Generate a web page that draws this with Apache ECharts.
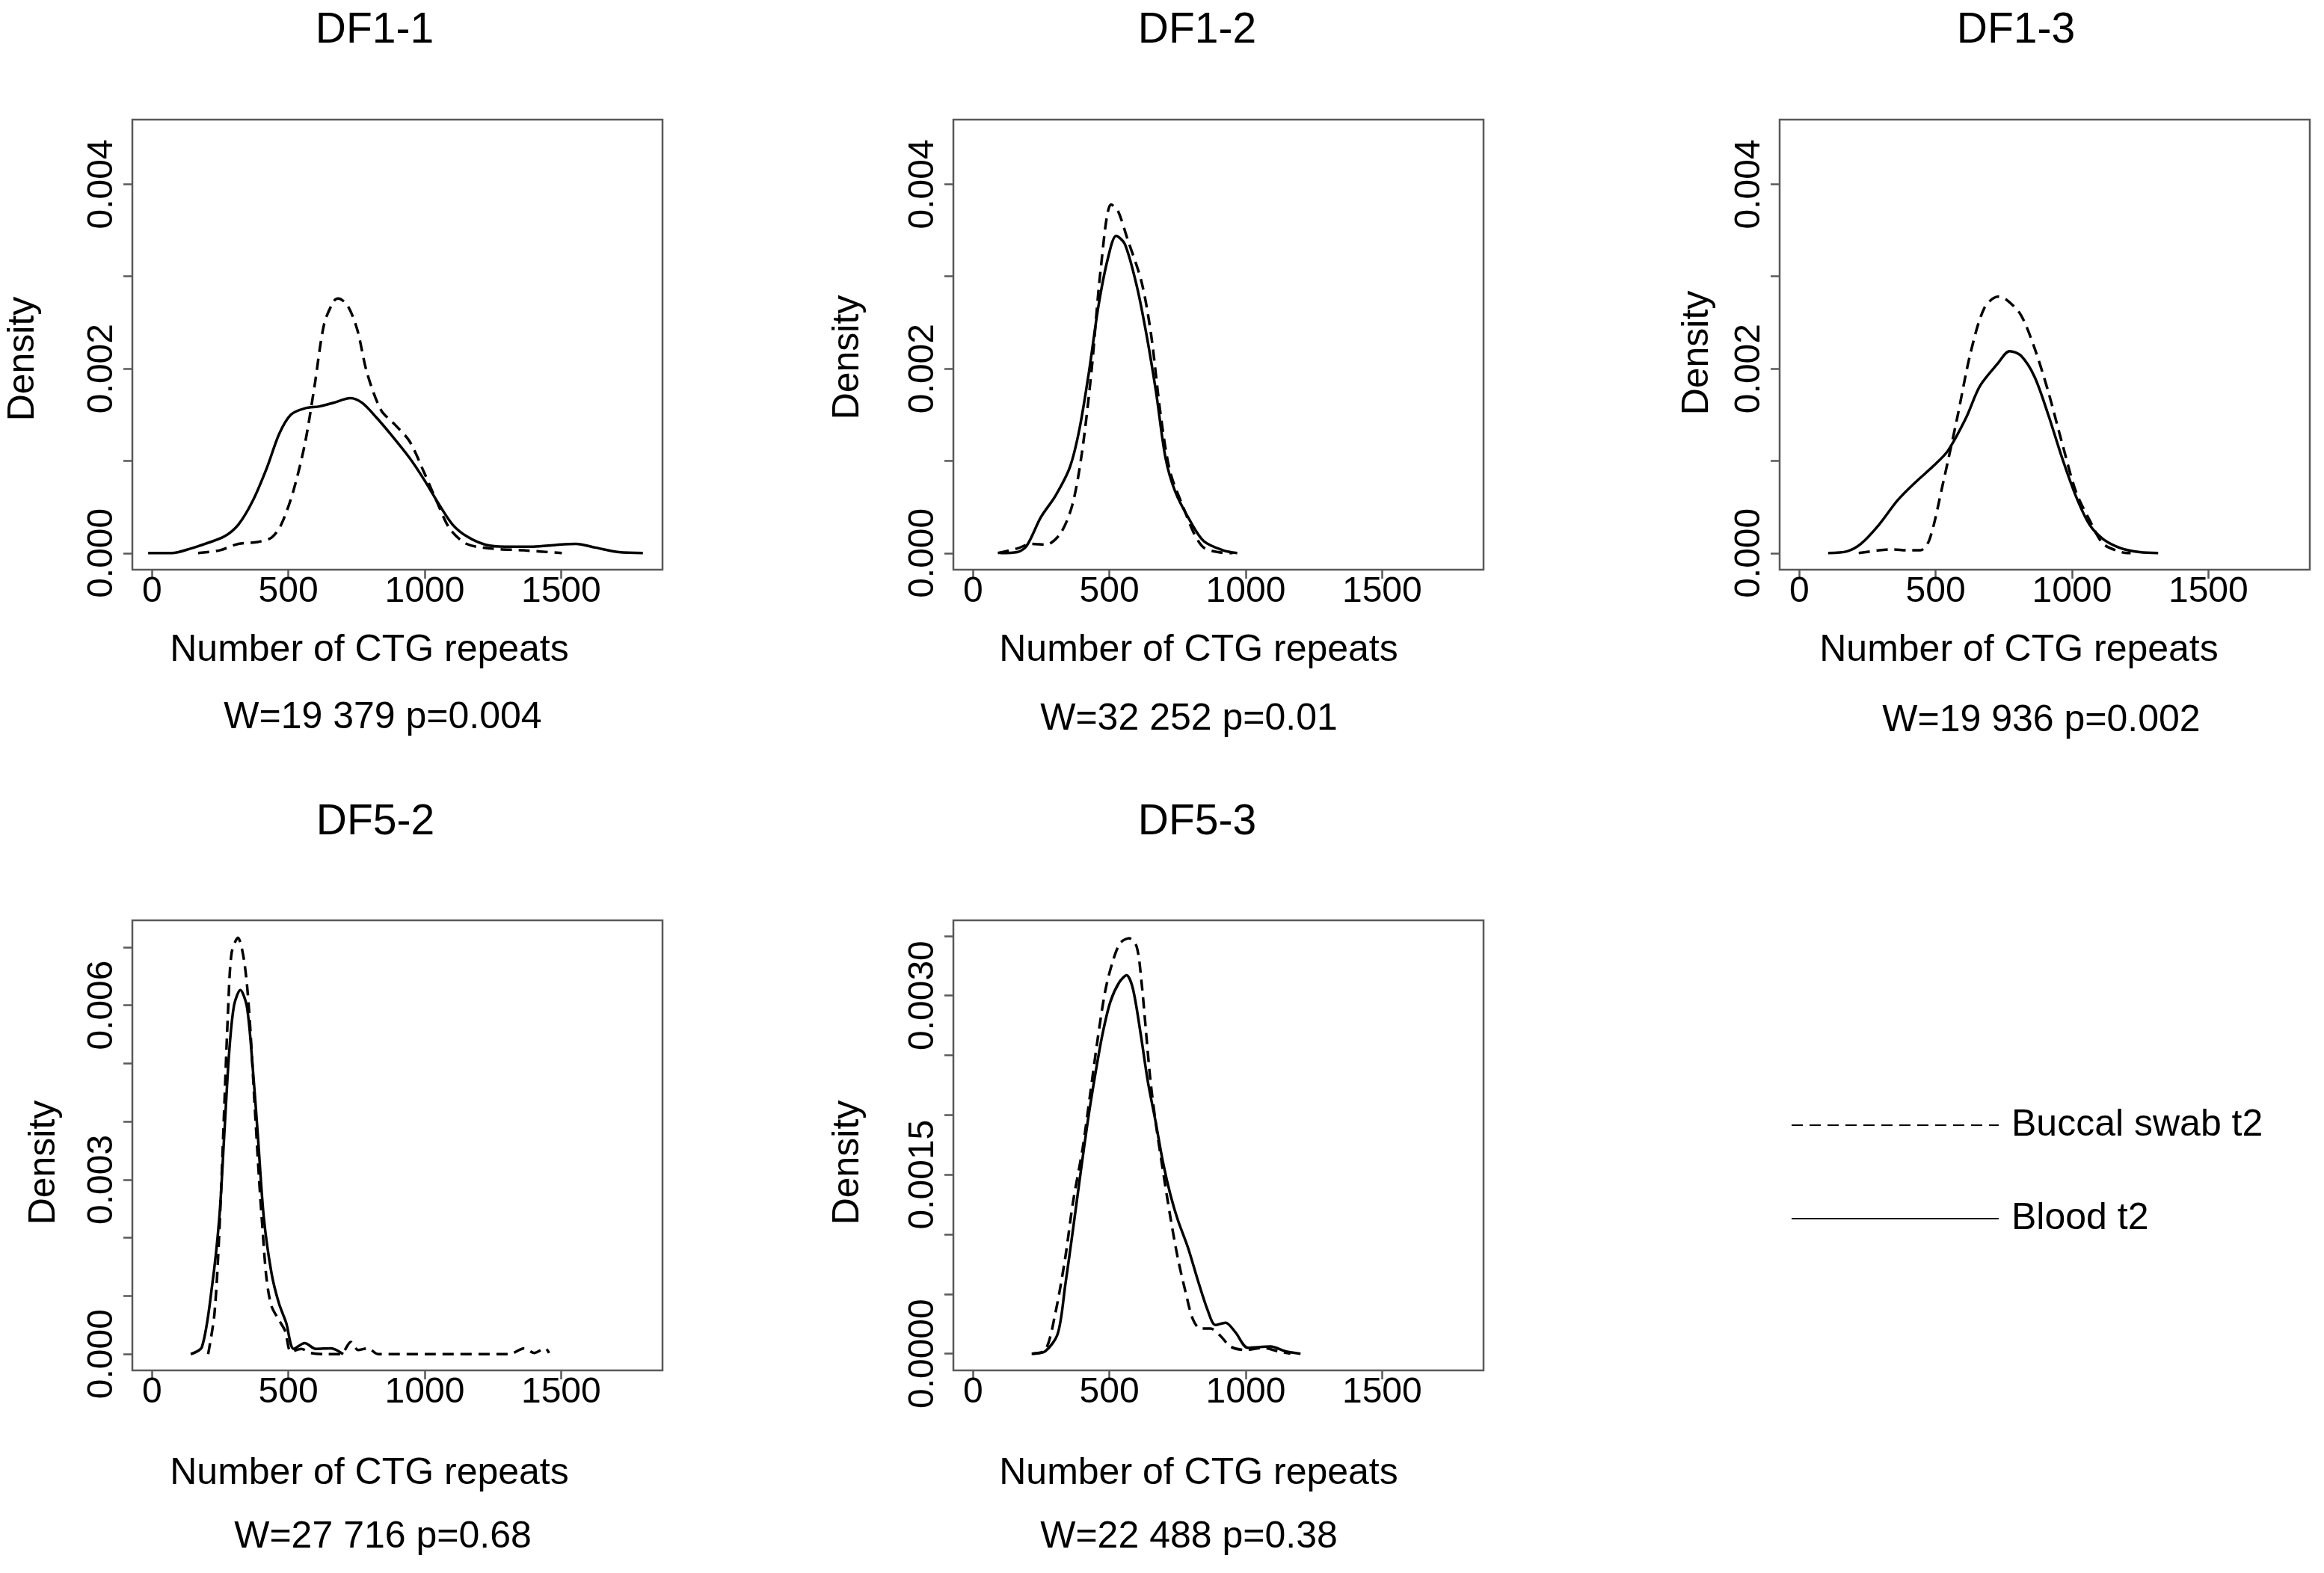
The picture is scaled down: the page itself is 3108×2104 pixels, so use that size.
<!DOCTYPE html>
<html>
<head>
<meta charset="utf-8">
<title>CTG repeat density</title>
<script src="https://cdn.jsdelivr.net/npm/echarts@6/dist/echarts.min.js"></script>
<style>
  html, body { margin: 0; padding: 0; background: #fff; }
  #chart { width: 3108px; height: 2104px; }
</style>
</head>
<body>
<div id="chart"></div>
<script>
// panel names and test results
var panelNames = ['DF1-1', 'DF1-2', 'DF1-3', 'DF5-2', 'DF5-3']
var testText = ['W=19 379 p=0.004', 'W=32 252 p=0.01', 'W=19 936 p=0.002', 'W=27 716 p=0.68', 'W=22 488 p=0.38']
var seriesNames = ['Buccal swab t2', 'Blood t2']

// x tick values (CTG repeats)
var xTicks = [0, 500, 1000, 1500]

// y ticks / labels per panel
var yTicks = [
	[0, 0.001, 0.002, 0.003, 0.004],
	[0, 0.001, 0.002, 0.003, 0.004],
	[0, 0.001, 0.002, 0.003, 0.004],
	[0, 0.001, 0.002, 0.003, 0.004, 0.005, 0.006, 0.007],
	[0, 0.0005, 0.001, 0.0015, 0.002, 0.0025, 0.003, 0.0035]
]
var yLabels = [
	[0, 0.002, 0.004],
	[0, 0.002, 0.004],
	[0, 0.002, 0.004],
	[0, 0.003, 0.006],
	[0, 0.0015, 0.003]
]
var yDecimals = [3, 3, 3, 3, 4]
var yRange = [
	[-0.00018, 0.0047],
	[-0.00018, 0.0047],
	[-0.00018, 0.0047],
	[-0.00028, 0.00746],
	[-0.00014, 0.00363]
]

// density curves [repeats, density]
var df11Buccal = [[169,0],[248,0.00003],[317,0.0001],[387,0.00012],[439,0.00017],[474,0.00031],[518,0.00067],[561,0.00119],[596,0.00181],[631,0.00248],[666,0.00273],[683,0.00276],[718,0.00268],[753,0.00242],[788,0.00196],[840,0.00155],[892,0.00139],[945,0.00121],[997,0.00088],[1050,0.00052],[1093,0.00026],[1154,0.0001],[1241,0.00005],[1363,0.00003],[1503,0]]
var df11Blood = [[-14,0],[73,0],[143,0.00005],[195,0.0001],[265,0.00018],[317,0.00031],[370,0.00057],[422,0.00093],[466,0.00129],[509,0.0015],[561,0.00157],[614,0.00159],[666,0.00163],[727,0.00168],[770,0.00163],[823,0.00147],[875,0.00129],[945,0.00103],[997,0.0008],[1050,0.00054],[1102,0.00031],[1155,0.00018],[1224,0.00009],[1294,0.00007],[1398,0.00007],[1485,0.00009],[1555,0.0001],[1625,0.00006],[1712,0.00001],[1800,0]]

var df12Buccal = [[91,0],[162,0.00005],[214,0.0001],[267,0.00009],[320,0.00021],[364,0.00052],[399,0.00108],[434,0.00196],[469,0.0031],[506,0.00378],[530,0.00372],[566,0.00341],[618,0.00294],[653,0.00237],[688,0.0015],[723,0.00088],[776,0.00046],[811,0.00021],[846,0.00006],[899,0.00001],[952,0]]
var df12Blood = [[100,0],[162,0.00001],[197,0.00008],[249,0.00039],[302,0.00062],[355,0.00093],[390,0.00134],[425,0.00196],[460,0.00268],[495,0.0032],[525,0.00344],[557,0.00335],[601,0.00289],[636,0.00237],[671,0.00175],[706,0.00103],[741,0.00067],[794,0.00036],[846,0.00013],[917,0.00003],[969,0]]

var df13Buccal = [[218,0],[293,0.00003],[344,0.00004],[394,0.00003],[444,0.00003],[478,0.00015],[528,0.00077],[578,0.00145],[628,0.00217],[679,0.00266],[729,0.00278],[763,0.00274],[813,0.00258],[863,0.00222],[913,0.00175],[964,0.00119],[1014,0.00067],[1064,0.00036],[1115,0.0001],[1182,0.00001],[1215,0]]
var df13Blood = [[106,0],[176,0.00002],[226,0.0001],[293,0.00031],[360,0.00057],[427,0.00077],[494,0.00095],[545,0.00111],[612,0.00147],[662,0.00181],[729,0.00206],[771,0.00219],[813,0.00214],[863,0.00191],[913,0.0015],[964,0.00103],[1014,0.00062],[1064,0.00031],[1115,0.00015],[1182,0.00005],[1249,0.00001],[1316,0]]

var df52Buccal = [[206,0],[229,0.00069],[247,0.00211],[265,0.00424],[279,0.00591],[292,0.0069],[315,0.00716],[338,0.00676],[356,0.00591],[374,0.00448],[392,0.00306],[406,0.00211],[420,0.0013],[438,0.00083],[465,0.00059],[488,0.0004],[510,0.00004],[547,0.00009],[583,0.00002],[638,0],[692,0],[729,0.00021],[756,0.00007],[792,0.0001],[829,0],[1038,0],[1310,0],[1365,0.0001],[1401,0.00002],[1442,0.0001],[1456,0.00002]]
var df52Blood = [[142,0],[183,0.00012],[220,0.00116],[247,0.00235],[265,0.00377],[283,0.00519],[301,0.006],[324,0.00626],[347,0.006],[365,0.00519],[388,0.00377],[410,0.00235],[438,0.0014],[465,0.00088],[492,0.00054],[520,0.00009],[560,0.00019],[601,0.00009],[656,0.0001],[701,0]]

var df53Buccal = [[215,0],[265,0.00003],[301,0.00033],[338,0.0008],[366,0.00126],[402,0.00172],[430,0.00218],[458,0.00265],[485,0.00304],[513,0.00329],[540,0.00344],[572,0.00348],[600,0.00341],[618,0.00311],[632,0.00276],[650,0.0023],[669,0.00195],[696,0.00154],[724,0.00114],[751,0.0008],[779,0.00052],[806,0.00029],[834,0.00021],[871,0.00021],[907,0.00015],[944,0.00006],[999,0.00003],[1063,0.00005],[1118,0.00002],[1164,0]]
var df53Blood = [[218,0],[265,0.00002],[311,0.00017],[338,0.00057],[366,0.00103],[393,0.00149],[421,0.00195],[449,0.00235],[476,0.00269],[504,0.00295],[536,0.00311],[563,0.00317],[586,0.00306],[614,0.00269],[641,0.00228],[669,0.00195],[696,0.00161],[724,0.00133],[751,0.00112],[788,0.00089],[825,0.00061],[861,0.00036],[889,0.00024],[926,0.00026],[962,0.00018],[1008,0.00005],[1091,0.00006],[1146,0.00002],[1201,0]]

var buccalData = [df11Buccal, df12Buccal, df13Buccal, df52Buccal, df53Buccal]
var bloodData = [df11Blood, df12Blood, df13Blood, df52Blood, df53Blood]

// panel placement in pixels
var boxes = [
	{ left: 177, top: 160, width: 709, height: 602 },
	{ left: 1275, top: 160, width: 709, height: 602 },
	{ left: 2380, top: 160, width: 709, height: 602 },
	{ left: 177, top: 1231, width: 709, height: 602 },
	{ left: 1275, top: 1231, width: 709, height: 602 }
]
var titlePos = [[501, 41], [1601, 41], [2696, 41], [502, 1100], [1601, 1100]]
var xNamePos = [[494, 870], [1603, 870], [2700, 870], [494, 1971], [1603, 1971]]
var testPos = [[512, 960], [1590, 962], [2730, 964], [512, 2056], [1590, 2056]]
var yNamePos = [[31, 480], [1134, 478], [2270, 472], [59, 1555], [1134, 1555]]

var FONT = '"Liberation Sans", Arial, sans-serif'
var BOX = '#595959'

var grids = [], xAxes = [], yAxes = [], series = [], texts = []

boxes.forEach(function (b, i) {
	grids.push({
		left: b.left, top: b.top, width: b.width, height: b.height,
		show: true, borderColor: BOX, borderWidth: 2.5, backgroundColor: 'transparent'
	})
	xAxes.push({
		type: 'value', gridIndex: i, min: -72, max: 1872,
		axisLine: { show: false, onZero: false },
		splitLine: { show: false },
		axisTick: { show: true, inside: false, customValues: xTicks, length: 12, lineStyle: { color: BOX, width: 2.5 } },
		axisLabel: {
			customValues: xTicks, fontSize: 48, fontFamily: FONT, color: '#000', margin: 6,
			formatter: function (v) { return String(v) }
		}
	})
	var dec = yDecimals[i]
	yAxes.push({
		type: 'value', gridIndex: i, min: yRange[i][0], max: yRange[i][1],
		axisLine: { show: false, onZero: false },
		splitLine: { show: false },
		axisTick: { show: true, inside: false, customValues: yTicks[i], length: 12, lineStyle: { color: BOX, width: 2.5 } },
		axisLabel: {
			customValues: yLabels[i], rotate: 90, fontSize: 48, fontFamily: FONT, color: '#000', margin: 16,
			formatter: function (v) { return Number(v).toFixed(dec) }
		}
	})
	series.push({
		name: seriesNames[0], type: 'line', xAxisIndex: i, yAxisIndex: i,
		data: buccalData[i], symbol: 'none', smooth: 0.3, silent: true,
		lineStyle: { color: '#000', width: 3.5, type: [15, 9] }, itemStyle: { color: '#000' }
	})
	series.push({
		name: seriesNames[1], type: 'line', xAxisIndex: i, yAxisIndex: i,
		data: bloodData[i], symbol: 'none', smooth: 0.3, silent: true,
		lineStyle: { color: '#000', width: 3.5, type: 'solid' }, itemStyle: { color: '#000' }
	})

	texts.push({ type: 'text', x: titlePos[i][0], y: titlePos[i][1],
		style: { text: panelNames[i], font: '57px ' + FONT, fill: '#000', align: 'center', verticalAlign: 'middle' } })
	texts.push({ type: 'text', x: xNamePos[i][0], y: xNamePos[i][1],
		style: { text: 'Number of CTG repeats', font: '50px ' + FONT, fill: '#000', align: 'center', verticalAlign: 'middle' } })
	texts.push({ type: 'text', x: testPos[i][0], y: testPos[i][1],
		style: { text: testText[i], font: '50px ' + FONT, fill: '#000', align: 'center', verticalAlign: 'middle' } })
	texts.push({ type: 'text', x: yNamePos[i][0], y: yNamePos[i][1], rotation: Math.PI / 2,
		style: { text: 'Density', font: '50px ' + FONT, fill: '#000', align: 'center', verticalAlign: 'middle' } })
})

var chart = echarts.init(document.getElementById('chart'), null, { width: 3108, height: 2104 })
chart.setOption({
	backgroundColor: '#fff',
	animation: false,
	grid: grids,
	xAxis: xAxes,
	yAxis: yAxes,
	series: series,
	graphic: texts,
	legend: {
		data: seriesNames,
		orient: 'vertical',
		left: 2390, top: 1475,
		itemWidth: 277, itemHeight: 14, itemGap: 75,
		selectedMode: false,
		itemStyle: { opacity: 0 },
		textStyle: { fontSize: 50, fontFamily: FONT, color: '#000', padding: [0, 0, 0, 12] }
	}
})
</script>
</body>
</html>
